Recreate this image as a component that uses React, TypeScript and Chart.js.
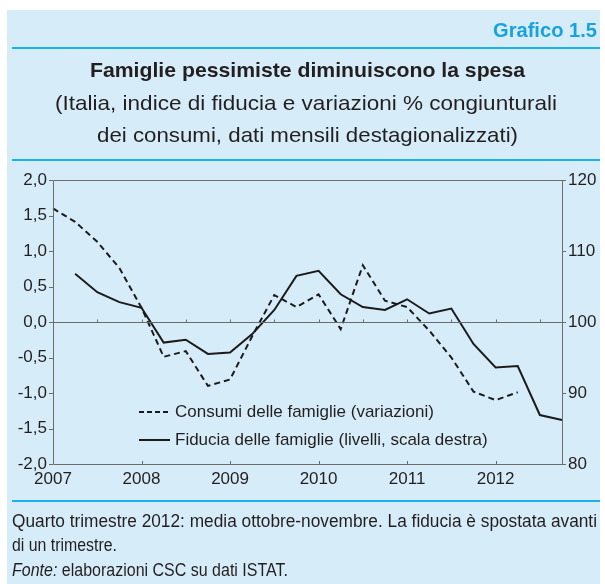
import React, { useEffect, useRef } from "react";
import { Chart, registerables } from "chart.js";

Chart.register(...registerables);

const YEARS = ["2007", "2008", "2009", "2010", "2011", "2012"];
const QUARTERS = YEARS.flatMap((y) => [y + " T1", y + " T2", y + " T3", y + " T4"]);

// Consumi delle famiglie (variazioni % congiunturali), left axis
const CONSUMI = [
  1.6, 1.41, 1.13, 0.76, 0.2, -0.49, -0.41, -0.9, -0.81, -0.2, 0.38, 0.21,
  0.39, -0.1, 0.8, 0.3, 0.21, -0.12, -0.5, -0.98, -1.1, -0.99, null, null,
];

// Fiducia delle famiglie (livelli), right axis
const FIDUCIA = [
  null, 106.8, 104.2, 102.8, 102.0, 97.1, 97.5, 95.5, 95.7, 98.3, 101.7, 106.5,
  107.2, 103.9, 102.1, 101.7, 103.2, 101.2, 101.9, 96.9, 93.6, 93.8, 86.9, 86.2,
];

const LEFT_MIN = -2;
const LEFT_MAX = 2;
const LEFT_STEP = 0.5;
const RIGHT_MIN = 80;
const RIGHT_MAX = 120;
const RIGHT_STEP = 10;

const LABEL_CONSUMI = "Consumi delle famiglie (variazioni)";
const LABEL_FIDUCIA = "Fiducia delle famiglie (livelli, scala destra)";

const CHART_NO = "Grafico 1.5";
const TITLE = "Famiglie pessimiste diminuiscono la spesa";
const SUBTITLE_1 = "(Italia, indice di fiducia e variazioni % congiunturali";
const SUBTITLE_2 = "dei consumi, dati mensili destagionalizzati)";
const NOTE_1 = "Quarto trimestre 2012: media ottobre-novembre. La fiducia è spostata avanti";
const NOTE_2 = "di un trimestre.";
const SOURCE_LABEL = "Fonte:";
const SOURCE_TEXT = " elaborazioni CSC su dati ISTAT.";

const AXIS_COLOR = "#6b6c6e";
const TEXT_COLOR = "#231f20";
const LINE_COLOR = "#1b1b1b";
const BLUE = "#1eb0ea";
const TICK_FONT = "'Liberation Sans', Arial, sans-serif";

const framePlugin = {
  id: "frame",
  afterDatasetsDraw(chart: any) {
    const { ctx, chartArea, scales } = chart;
    const { left, right, top, bottom } = chartArea;
    const x = scales.x;
    const yl = scales.y;
    const yr = scales.y1;
    ctx.save();
    ctx.strokeStyle = AXIS_COLOR;
    ctx.lineWidth = 1;
    ctx.beginPath();
    ctx.rect(Math.round(left) + 0.5, Math.round(top) + 0.5, Math.round(right - left), Math.round(bottom - top));
    ctx.stroke();
    const y0 = Math.round(yl.getPixelForValue(0)) + 0.5;
    ctx.beginPath();
    ctx.moveTo(left, y0);
    ctx.lineTo(right, y0);
    for (let i = 0; i < QUARTERS.length; i += 2) {
      const px = Math.round(x.getPixelForValue(i)) + 0.5;
      ctx.moveTo(px, y0);
      ctx.lineTo(px, y0 - 3);
    }
    for (let i = 0; i < QUARTERS.length; i += 4) {
      const px = Math.round(x.getPixelForValue(i)) + 0.5;
      ctx.moveTo(px, bottom);
      ctx.lineTo(px, bottom - 3);
    }
    for (let v = LEFT_MIN; v <= LEFT_MAX + 1e-9; v += LEFT_STEP) {
      const py = Math.round(yl.getPixelForValue(v)) + 0.5;
      ctx.moveTo(left - 4, py);
      ctx.lineTo(left, py);
    }
    for (let v = RIGHT_MIN; v <= RIGHT_MAX + 1e-9; v += RIGHT_STEP) {
      const py = Math.round(yr.getPixelForValue(v)) + 0.5;
      ctx.moveTo(right, py);
      ctx.lineTo(right + 4, py);
    }
    ctx.stroke();
    ctx.restore();
  },
};

function ChartCanvas() {
  const ref = useRef<HTMLCanvasElement | null>(null);
  useEffect(() => {
    if (!ref.current) return;
    const chart = new Chart(ref.current, {
      type: "line",
      data: {
        labels: QUARTERS,
        datasets: [
          {
            label: LABEL_CONSUMI,
            data: CONSUMI,
            yAxisID: "y",
            borderColor: LINE_COLOR,
            borderWidth: 2,
            borderDash: [6, 4],
            pointRadius: 0,
            tension: 0,
            fill: false,
          },
          {
            label: LABEL_FIDUCIA,
            data: FIDUCIA,
            yAxisID: "y1",
            borderColor: LINE_COLOR,
            borderWidth: 2,
            pointRadius: 0,
            tension: 0,
            fill: false,
          },
        ],
      },
      options: {
        animation: false,
        responsive: false,
        maintainAspectRatio: false,
        layout: { padding: { top: 18, left: 0, right: 0, bottom: 0 } },
        plugins: { legend: { display: false }, tooltip: { enabled: false } },
        scales: {
          x: {
            type: "category",
            offset: false,
            grid: { display: false, drawTicks: false },
            border: { display: false },
            ticks: {
              autoSkip: false,
              maxRotation: 0,
              minRotation: 0,
              padding: 5,
              color: TEXT_COLOR,
              font: { family: TICK_FONT, size: 17 },
              callback: (_v: any, i: number) => (i % 4 === 0 ? YEARS[i / 4] : ""),
            },
            afterFit: (s: any) => {
              s.height = 28;
            },
          },
          y: {
            position: "left",
            min: LEFT_MIN,
            max: LEFT_MAX,
            grid: { display: false, drawTicks: false },
            border: { display: false },
            ticks: {
              stepSize: LEFT_STEP,
              padding: 6,
              color: TEXT_COLOR,
              font: { family: TICK_FONT, size: 17 },
              callback: (v: any) => Number(v).toFixed(1).replace(".", ","),
            },
            afterFit: (s: any) => {
              s.width = 46;
            },
          },
          y1: {
            position: "right",
            min: RIGHT_MIN,
            max: RIGHT_MAX,
            grid: { display: false, drawTicks: false },
            border: { display: false },
            ticks: {
              stepSize: RIGHT_STEP,
              padding: 6,
              color: TEXT_COLOR,
              font: { family: TICK_FONT, size: 17 },
            },
            afterFit: (s: any) => {
              s.width = 38;
            },
          },
        },
      },
      plugins: [framePlugin],
    } as any);
    return () => chart.destroy();
  }, []);
  return (
    <canvas
      ref={ref}
      width={593}
      height={330}
      style={{ position: "absolute", left: 7, top: 162, width: 593, height: 330 }}
    />
  );
}

function Texts() {
  const common = { fontFamily: TICK_FONT, fill: TEXT_COLOR, lengthAdjust: "spacingAndGlyphs" } as any;
  return (
    <svg width={605} height={584} style={{ position: "absolute", left: 0, top: 0 }}>
      <text {...common} x={493} y={37} fontSize={20} fontWeight="bold" fill="#17a2e0" textLength={104}>
        {CHART_NO}
      </text>
      <text {...common} x={90} y={77} fontSize={20.5} fontWeight="bold" textLength={435}>
        {TITLE}
      </text>
      <text {...common} x={55} y={110} fontSize={21} textLength={502}>
        {SUBTITLE_1}
      </text>
      <text {...common} x={97} y={142} fontSize={21} textLength={421}>
        {SUBTITLE_2}
      </text>
      <text {...common} x={12} y={527} fontSize={17.5} textLength={585}>
        {NOTE_1}
      </text>
      <text {...common} x={12} y={551} fontSize={17.5} textLength={105}>
        {NOTE_2}
      </text>
      <text {...common} x={12} y={576} fontSize={17.5} textLength={276}>
        <tspan fontStyle="italic">{SOURCE_LABEL}</tspan>
        {SOURCE_TEXT}
      </text>
    </svg>
  );
}

export default function App() {
  const rule = (top: number) => (
    <div style={{ position: "absolute", left: 12, top, width: 588, height: 2, background: BLUE }} />
  );
  return (
    <div style={{ position: "absolute", left: 0, top: 0, width: 605, height: 584, background: "#ffffff", overflow: "hidden" }}>
      <div style={{ position: "absolute", left: 7, top: 10, width: 593, height: 574, background: "#d6ecf9" }} />
      {rule(47)}
      {rule(159)}
      <ChartCanvas />
      <div style={{ position: "absolute", left: 139, top: 398, fontFamily: TICK_FONT, fontSize: 17, color: TEXT_COLOR, lineHeight: "28px" }}>
        <div style={{ display: "flex", alignItems: "center", height: 28 }}>
          <svg width={31} height={4} style={{ marginRight: 5 }}>
            <line x1={0} y1={2} x2={31} y2={2} stroke={LINE_COLOR} strokeWidth={2} strokeDasharray="5,3" />
          </svg>
          <span>{LABEL_CONSUMI}</span>
        </div>
        <div style={{ display: "flex", alignItems: "center", height: 28 }}>
          <svg width={31} height={4} style={{ marginRight: 5 }}>
            <line x1={0} y1={2} x2={31} y2={2} stroke={LINE_COLOR} strokeWidth={2} />
          </svg>
          <span>{LABEL_FIDUCIA}</span>
        </div>
      </div>
      {rule(500)}
      <Texts />
    </div>
  );
}
